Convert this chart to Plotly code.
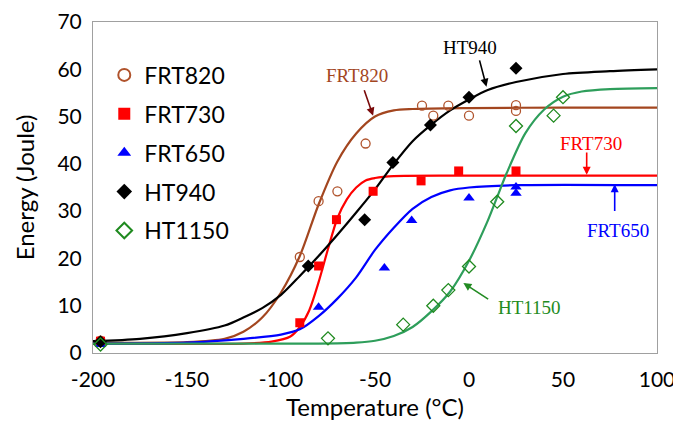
import plotly.graph_objects as go

# ---- measured points ----
frt820_t = [-196, -90, -80, -70, -55, -25, -19, -11, 0, 25, 25]
frt820_e = [2.6, 20.3, 32.1, 34.2, 44.3, 52.3, 50.2, 52.3, 50.2, 52.4, 51.2]
frt730_t = [-196, -90, -80, -70.5, -51, -25.5, -5.5, 25]
frt730_e = [2.5, 6.4, 18.4, 28.2, 34.2, 36.4, 38.5, 38.5]
frt650_t = [-196, -80, -45, -30.5, 0, 25, 25]
frt650_e = [1.8, 9.7, 18.0, 28.0, 32.8, 35.1, 33.8]
ht940_t = [-196, -85.5, -55.5, -40.5, -20.5, 0, 25]
ht940_e = [2.4, 18.4, 28.2, 40.3, 48.2, 54.1, 60.2]
ht1150_t = [-196, -75, -35, -19, -11, 0, 15, 25, 45, 50]
ht1150_e = [1.8, 3.1, 6.0, 10.0, 13.3, 18.3, 32.0, 48.0, 50.2, 54.1]

# ---- fitted curves ----
c820_t = [-200, -150, -130, -120, -110, -100, -90, -80, -70, -60, -50, -40, -30, 0, 50, 100]
c820_e = [2.2, 2.3, 3.0, 4.5, 7.5, 12.8, 20.5, 31.4, 40.5, 46.4, 50.0, 51.3, 51.6, 51.8, 51.9, 51.9]
c730_t = [-200, -120, -105, -95, -90, -85, -80, -75, -70, -65, -60, -55, -50, -40, 0, 100]
c730_e = [2.0, 2.0, 2.4, 3.5, 5.5, 9.0, 15.0, 22.0, 28.5, 32.5, 35.0, 36.5, 37.0, 37.4, 37.5, 37.5]
c650_t = [-200, -150, -120, -100, -90, -80, -70, -60, -50, -40, -30, -20, -10, 0, 25, 100]
c650_e = [2.0, 2.2, 3.0, 3.9, 5.0, 7.8, 11.5, 16.0, 21.8, 26.5, 30.5, 33.0, 34.4, 35.0, 35.5, 35.5]
c940_t = [-200, -175, -150, -130, -120, -110, -100, -90, -80, -70, -60, -50, -40, -30, -20, -10, 0, 10, 25, 50, 75, 100]
c940_e = [2.5, 3.0, 4.2, 5.8, 7.5, 9.5, 12.3, 16.3, 20.5, 25.0, 29.7, 34.6, 40.0, 44.8, 48.3, 51.3, 53.6, 55.6, 57.3, 59.0, 59.6, 60.0]
c1150_t = [-200, -80, -60, -50, -40, -30, -20, -10, 0, 10, 15, 20, 30, 40, 50, 60, 75, 100]
c1150_e = [2.0, 2.0, 2.2, 2.6, 3.6, 5.5, 8.8, 13.0, 19.5, 28.0, 33.0, 38.0, 46.5, 51.5, 54.2, 55.3, 55.8, 56.0]

x_ticks = [-200, -150, -100, -50, 0, 50, 100]
x_tick_text = ["-200", "-150", "-100", "-50", "0", "50", "100"]
y_ticks = [0, 10, 20, 30, 40, 50, 60, 70]

BROWN = "#A3461F"
BROWN_M = "#B0532C"
RED = "#FF0000"
BLUE = "#0000FF"
GREEN_L = "#2E9E5B"
GREEN_M = "#1F8A1F"

fig = go.Figure()

curves = [
    (c820_t, c820_e, BROWN),
    (c730_t, c730_e, RED),
    (c650_t, c650_e, BLUE),
    (c1150_t, c1150_e, GREEN_L),
    (c940_t, c940_e, "#000000"),
]
for t, e, col in curves:
    fig.add_trace(go.Scatter(x=t, y=e, mode="lines", line=dict(color=col, width=2.2, shape="spline", smoothing=0.8),
                             showlegend=False, hoverinfo="skip"))

pts = [
    ("FRT820", frt820_t, frt820_e, dict(symbol="circle-open", size=9, color=BROWN_M, line=dict(width=1.3))),
    ("FRT730", frt730_t, frt730_e, dict(symbol="square", size=9, color=RED)),
    ("FRT650", frt650_t, frt650_e, dict(symbol="triangle-up", size=10, color=BLUE)),
    ("HT940", ht940_t, ht940_e, dict(symbol="diamond", size=10, color="#000000")),
    ("HT1150", ht1150_t, ht1150_e, dict(symbol="diamond-open", size=10, color=GREEN_M, line=dict(width=1.3))),
]
for name, t, e, m in pts:
    fig.add_trace(go.Scatter(x=t, y=e, mode="markers", name=name, legendgroup=name, marker=m))

serif = "Liberation Serif"
labels = [
    ("FRT820", -59.5, 58.6, BROWN, -56, 55.9, -51, 50.2, "#7A0A0A"),
    ("HT940", 0.5, 64.7, "#000000", 5.4, 62.2, 9.3, 56.3, "#000000"),
    ("FRT730", 65, 44.3, RED, 62.6, 42.7, 62.6, 37.7, RED),
    ("FRT650", 79, 26.0, BLUE, 77.5, 29.7, 77.5, 35.7, BLUE),
    ("HT1150", 32, 9.6, "#228B22", 11, 11.2, -3, 14.8, "#228B22"),
]
for txt, tx, ty, col, ax0, ay0, ax1, ay1, acol in labels:
    fig.add_annotation(x=tx, y=ty, text=txt, showarrow=False, font=dict(family=serif, size=19, color=col))
    fig.add_annotation(x=ax1, y=ay1, ax=ax0, ay=ay0, xref="x", yref="y", axref="x", ayref="y",
                       text="", showarrow=True, arrowhead=2, arrowsize=1, arrowwidth=1.6, arrowcolor=acol)

font_main = "Lato, Noto Sans, sans-serif"
fig.update_layout(
    width=673, height=415,
    margin=dict(l=85, r=24, t=14, b=70),
    paper_bgcolor="white", plot_bgcolor="white",
    font=dict(family=font_main, size=20, color="#000000"),
    legend=dict(x=0.02, y=0.905, xanchor="left", yanchor="top", bgcolor="rgba(0,0,0,0)",
                font=dict(size=23), tracegroupgap=6, itemsizing="constant"),
    xaxis=dict(range=[-200, 100], tickvals=x_ticks, ticktext=x_tick_text, ticks="", showgrid=False, zeroline=False,
               showline=True, linecolor="#A0A0A0", linewidth=1, mirror=True, automargin=False,
               ticklabelstandoff=8,
               title=dict(text="Temperature (°C)", font=dict(size=24), standoff=8),
               tickfont=dict(size=21)),
    yaxis=dict(range=[0, 70], tickvals=y_ticks, ticks="", showgrid=False, zeroline=False,
               showline=True, linecolor="#A0A0A0", linewidth=1, mirror=True, automargin=False,
               ticklabelstandoff=6,
               title=dict(text="Energy (Joule)", font=dict(size=24), standoff=16),
               tickfont=dict(size=21)),
)

fig.write_html("out.html")
